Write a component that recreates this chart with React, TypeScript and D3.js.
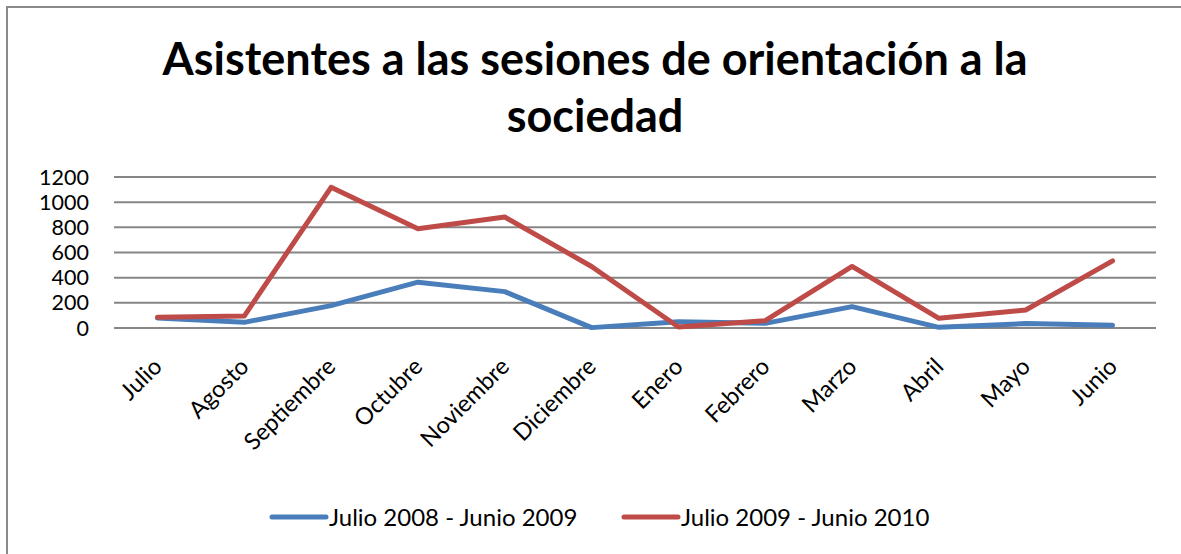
import React from "react";
import * as d3 from "d3";

const months = ["Julio", "Agosto", "Septiembre", "Octubre", "Noviembre", "Diciembre", "Enero", "Febrero", "Marzo", "Abril", "Mayo", "Junio"];
const serie2008 = [80, 45, 178, 364, 289, 3, 50, 37, 170, 5, 35, 22];
const serie2009 = [85, 95, 1118, 789, 882, 489, 8, 58, 489, 77, 143, 534];
const yTicks = [0, 200, 400, 600, 800, 1000, 1200];
const seriesNames = ["Julio 2008 - Junio 2009", "Julio 2009 - Junio 2010"];
const titleLines = ["Asistentes a las sesiones de orientación a la", "sociedad"];

const W = 1181;
const H = 554;
const FONT = "Lato, 'Open Sans', sans-serif";

export default function App() {
  const x = d3.scaleBand<string>().domain(months).range([114, 1156]);
  const y = d3.scaleLinear().domain([0, 1200]).range([328, 177]);
  const line = d3
    .line<number>()
    .x((_, i) => (x(months[i]) as number) + x.bandwidth() / 2)
    .y((d) => y(d));
  const series = [
    { name: seriesNames[0], values: serie2008, color: "#4a7ebb" },
    { name: seriesNames[1], values: serie2009, color: "#be4b48" },
  ];
  const legendX = [272, 624];
  return (
    <svg width={W} height={H} style={{ position: "absolute", left: 0, top: 0, background: "#fff" }}>
      <rect x={7} y={7} width={W + 20} height={H + 20} fill="#fff" stroke="#898989" strokeWidth={2} />
      {titleLines.map((t, i) => (
        <text key={i} x={595} y={75 + i * 57} textAnchor="middle" fontFamily={FONT} fontWeight="bold" fontSize={45} fill="#000">
          {t}
        </text>
      ))}
      {yTicks.map((t) => (
        <g key={t}>
          <line x1={114} x2={1156} y1={y(t)} y2={y(t)} stroke="#868686" strokeWidth={2} />
          <text x={89} y={y(t) + 7.5} textAnchor="end" fontFamily={FONT} fontSize={21.5} fill="#000">
            {t}
          </text>
        </g>
      ))}
      {series.map((s) => (
        <path key={s.name} d={line(s.values) || ""} fill="none" stroke={s.color} strokeWidth={5} strokeLinejoin="round" strokeLinecap="round" />
      ))}
      {months.map((m) => {
        const cx = (x(m) as number) + x.bandwidth() / 2;
        return (
          <text key={m} transform={`translate(${cx + 6},${368}) rotate(-45)`} textAnchor="end" fontFamily={FONT} fontSize={23.5} fill="#000">
            {m}
          </text>
        );
      })}
      {series.map((s, i) => (
        <g key={s.name}>
          <line x1={legendX[i]} x2={legendX[i] + 54} y1={517} y2={517} stroke={s.color} strokeWidth={5} strokeLinecap="round" />
          <text x={legendX[i] + 57} y={526} fontFamily={FONT} fontSize={24} fill="#000">
            {s.name}
          </text>
        </g>
      ))}
    </svg>
  );
}
